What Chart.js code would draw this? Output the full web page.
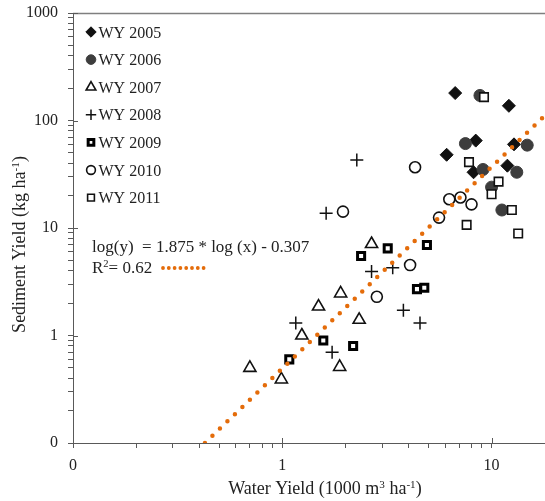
<!DOCTYPE html>
<html>
<head>
<meta charset="utf-8">
<title>Sediment yield vs water yield</title>
<script src="https://cdn.jsdelivr.net/npm/chart.js@4.4.0/dist/chart.umd.min.js"></script>
<style>
  html, body { margin: 0; padding: 0; background: #fff; }
  canvas { display: block; }
</style>
</head>
<body>
<canvas id="yieldChart" width="545" height="501"></canvas>
<script>
// Water yield (1000 m3/ha) and sediment yield (kg/ha) by water year
const seriesNames = ["WY 2005", "WY 2006", "WY 2007", "WY 2008", "WY 2009", "WY 2010", "WY 2011"];

const wy2005X = [6.7, 12.1, 8.4, 12.8, 6.1, 8.2, 11.9];
const wy2005Y = [180, 137, 65, 60, 48, 33, 38];

const wy2006X = [8.8, 7.5, 14.8, 9.1, 13.2, 10.0, 11.2];
const wy2006Y = [171, 61, 59, 35, 33, 24, 14.7];

const wy2007X = [2.67, 1.9, 1.49, 2.33, 1.24, 0.70, 1.88, 0.99];
const wy2007Y = [7.1, 2.46, 1.86, 1.40, 1.0, 0.50, 0.51, 0.39];

const wy2008X = [2.27, 1.62, 2.67, 3.37, 3.79, 4.55, 1.16, 1.73];
const wy2008Y = [43, 13.7, 3.93, 4.26, 1.72, 1.31, 1.31, 0.70];

const wy2009X = [3.19, 4.91, 2.38, 4.40, 4.77, 1.57, 2.18, 1.08];
const wy2009Y = [6.46, 6.94, 5.48, 2.70, 2.78, 0.90, 0.80, 0.60];

const wy2010X = [4.31, 6.28, 7.10, 8.02, 5.61, 1.95, 4.08, 2.83];
const wy2010Y = [36.7, 18.5, 19.2, 16.6, 12.5, 14.2, 4.52, 2.29];

const wy2011X = [9.2, 7.8, 10.8, 10.0, 12.5, 7.6, 13.4];
const wy2011Y = [165, 41, 27, 20.6, 14.7, 10.7, 8.9];

// Power-law fit: log(y) = slope * log(x) + intercept
const trendSlope = 1.875;
const trendIntercept = -0.307;
const trendR2 = 0.62;

// Axis decades and their labels
const xDecades = [0.1, 1, 10];
const xTickLabels = ["0", "1", "10"];
const yDecades = [0.1, 1, 10, 100, 1000];
const yTickLabels = ["0", "1", "10", "100", "1000"];
const xMin = 0.1, xMax = 18;
const yMin = 0.1, yMax = 1000;

const serif = "'Liberation Serif', 'Times New Roman', serif";
const textColor = "#222";
const axisColor = "#595959";
const trendColor = "#E46C0A";

const xs = [wy2005X, wy2006X, wy2007X, wy2008X, wy2009X, wy2010X, wy2011X];
const ys = [wy2005Y, wy2006Y, wy2007Y, wy2008Y, wy2009Y, wy2010Y, wy2011Y];

const markerStyles = [
    { pointStyle: "rectRot", radius: 6.5, bg: "#111", border: "#111", bw: 1 },
    { pointStyle: "circle", radius: 6, bg: "#3d3d3d", border: "#3d3d3d", bw: 1 },
    { pointStyle: "triangle", radius: 7, bg: "rgba(0,0,0,0)", border: "#111", bw: 1.6 },
    { pointStyle: "cross", radius: 6.5, bg: "#111", border: "#111", bw: 1.5 },
    { pointStyle: "rect", radius: 5, bg: "#fff", border: "#000", bw: 3 },
    { pointStyle: "circle", radius: 5.5, bg: "rgba(0,0,0,0)", border: "#111", bw: 1.6 },
    { pointStyle: "rect", radius: 6, bg: "#fff", border: "#111", bw: 1.6 }
];

const datasets = seriesNames.map((name, i) => ({
    type: "scatter",
    label: name,
    data: xs[i].map((x, k) => ({ x: x, y: ys[i][k] })),
    pointStyle: markerStyles[i].pointStyle,
    pointRadius: markerStyles[i].radius,
    pointBackgroundColor: markerStyles[i].bg,
    pointBorderColor: markerStyles[i].border,
    pointBorderWidth: markerStyles[i].bw,
    order: seriesNames.length - i   // later years drawn on top
}));

// Fit line from the bottom of the axis to the right edge
const trendFrom = Math.pow(10, (Math.log10(yMin) - trendIntercept) / trendSlope);
const trendAt = (x) => Math.pow(10, trendSlope * Math.log10(x) + trendIntercept);
datasets.push({
    type: "line",
    label: "fit",
    data: [{ x: trendFrom, y: trendAt(trendFrom) }, { x: xMax, y: trendAt(xMax) }],
    borderColor: trendColor,
    borderWidth: 4.5,
    borderDash: [0, 10.4],
    borderCapStyle: "round",
    pointRadius: 0,
    fill: false,
    order: 0
});

function logTicks(min, max, decades) {
    const out = [];
    decades.forEach(d => {
        for (let m = 1; m <= 9; m++) {
            const v = d * m;
            if (v >= min - 1e-9 && v <= max + 1e-9) out.push({ value: v, major: m === 1 });
        }
    });
    return out;
}

function labelFor(value, decades, labels) {
    const i = decades.findIndex(d => Math.abs(d - value) / d < 1e-6);
    return i >= 0 ? labels[i] : "";
}

// draws text with superscript parts
function drawRich(ctx, parts, x, y, size, align) {
    const sup = size * 0.62;
    let total = 0;
    parts.forEach(p => {
        ctx.font = (p.sup ? sup : size) + "px " + serif;
        total += ctx.measureText(p.t).width;
    });
    let cx = align === "center" ? x - total / 2 : x;
    ctx.textAlign = "left";
    ctx.textBaseline = "alphabetic";
    parts.forEach(p => {
        ctx.font = (p.sup ? sup : size) + "px " + serif;
        ctx.fillText(p.t, cx, p.sup ? y - size * 0.36 : y);
        cx += ctx.measureText(p.t).width;
    });
}

const decorations = {
    id: "decorations",
    afterDraw(chart) {
        const ctx = chart.ctx;
        const area = chart.chartArea;
        const xs = chart.scales.x, ys = chart.scales.y;
        ctx.save();

        // top frame line
        ctx.strokeStyle = "#7f7f7f";
        ctx.lineWidth = 1.3;
        ctx.beginPath();
        ctx.moveTo(area.left, area.top + 0.5);
        ctx.lineTo(area.right, area.top + 0.5);
        ctx.stroke();

        // major ticks cross the axis lines
        ctx.strokeStyle = axisColor;
        ctx.lineWidth = 1;
        ctx.beginPath();
        yDecades.forEach(v => {
            const py = Math.round(ys.getPixelForValue(v)) + 0.5;
            ctx.moveTo(area.left, py);
            ctx.lineTo(area.left + 5, py);
        });
        xDecades.forEach(v => {
            const px = Math.round(xs.getPixelForValue(v)) + 0.5;
            ctx.moveTo(px, area.bottom);
            ctx.lineTo(px, area.bottom - 5);
        });
        ctx.stroke();

        // legend inside the plot
        seriesNames.forEach((name, i) => {
            const base = 37.5 + i * 27.6;
            const st = markerStyles[i];
            ctx.fillStyle = st.bg;
            ctx.strokeStyle = st.border;
            ctx.lineWidth = st.bw;
            Chart.helpers.drawPoint(ctx, {
                pointStyle: st.pointStyle,
                radius: st.radius * 0.8,
                rotation: 0,
                borderWidth: st.bw
            }, 91, base - 5.5);
            ctx.fillStyle = textColor;
            ctx.font = "16px " + serif;
            ctx.textAlign = "left";
            ctx.textBaseline = "alphabetic";
            ctx.fillText(name, 98.5, base);
        });

        // fit equation and its key
        ctx.fillStyle = textColor;
        drawRich(ctx, [{ t: "log(y)  = " + trendSlope.toFixed(3) + " * log (x) - " + Math.abs(trendIntercept).toFixed(3) }], 92, 252, 17, "left");
        drawRich(ctx, [{ t: "R" }, { t: "2", sup: true }, { t: "= " + trendR2.toFixed(2) }], 92, 273, 17, "left");
        ctx.strokeStyle = trendColor;
        ctx.lineWidth = 3.8;
        ctx.lineCap = "round";
        ctx.setLineDash([0, 5.8]);
        ctx.beginPath();
        ctx.moveTo(163, 268);
        ctx.lineTo(207, 268);
        ctx.stroke();
        ctx.setLineDash([]);

        // axis titles
        ctx.fillStyle = textColor;
        drawRich(ctx, [
            { t: "Water Yield (1000 m" }, { t: "3", sup: true },
            { t: " ha" }, { t: "-1", sup: true }, { t: ")" }
        ], 325, 494, 18, "center");
        ctx.translate(25, 244.5);
        ctx.rotate(-Math.PI / 2);
        drawRich(ctx, [
            { t: "Sediment Yield (kg ha" }, { t: "-1", sup: true }, { t: ")" }
        ], 0, 0, 18, "center");
        ctx.restore();
    }
};

const tickFont = { family: serif, size: 16 };

new Chart(document.getElementById("yieldChart").getContext("2d"), {
    data: { datasets: datasets },
    options: {
        responsive: false,
        animation: false,
        layout: { autoPadding: false, padding: { top: 13, right: 0, bottom: 0, left: 0 } },
        plugins: {
            legend: { display: false },
            tooltip: { enabled: false }
        },
        scales: {
            x: {
                type: "logarithmic",
                position: "bottom",
                min: xMin,
                max: xMax,
                afterBuildTicks: (scale) => { scale.ticks = logTicks(xMin, xMax, xDecades); },
                afterFit: (scale) => {
                    scale.height = 58;
                    scale.paddingLeft = 0;
                    scale.paddingRight = 0;
                },
                grid: { drawOnChartArea: false, drawTicks: true, tickLength: 5, tickColor: axisColor },
                border: { display: true, color: axisColor, width: 1 },
                ticks: {
                    autoSkip: false,
                    maxRotation: 0,
                    padding: 8,
                    color: textColor,
                    font: tickFont,
                    callback: (v) => labelFor(v, xDecades, xTickLabels)
                }
            },
            y: {
                type: "logarithmic",
                position: "left",
                min: yMin,
                max: yMax,
                afterBuildTicks: (scale) => { scale.ticks = logTicks(yMin, yMax, yDecades); },
                afterFit: (scale) => {
                    scale.width = 73;
                    scale.paddingTop = 0;
                    scale.paddingBottom = 0;
                },
                grid: { drawOnChartArea: false, drawTicks: true, tickLength: 5, tickColor: axisColor },
                border: { display: true, color: axisColor, width: 1 },
                ticks: {
                    autoSkip: false,
                    padding: 10,
                    color: textColor,
                    font: tickFont,
                    callback: (v) => labelFor(v, yDecades, yTickLabels)
                }
            }
        }
    },
    plugins: [decorations]
});
</script>
</body>
</html>
